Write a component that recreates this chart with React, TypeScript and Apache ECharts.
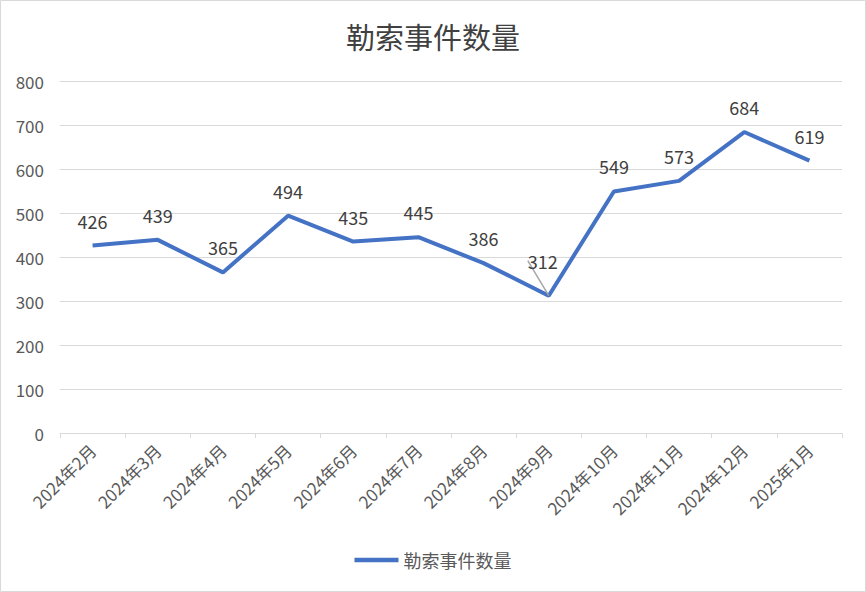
import React, { useEffect, useRef } from "react";
import * as echarts from "echarts";

const categories = [
  "2024年2月", "2024年3月", "2024年4月", "2024年5月", "2024年6月", "2024年7月",
  "2024年8月", "2024年9月", "2024年10月", "2024年11月", "2024年12月", "2025年1月",
];
const values = [426, 439, 365, 494, 435, 445, 386, 312, 549, 573, 684, 619];
const seriesName = "勒索事件数量";
const titleText = "勒索事件数量";
const leaderIndex = 7;

export default function App() {
  const ref = useRef<HTMLDivElement>(null);
  useEffect(() => {
    if (!ref.current) return;
    const chart = echarts.init(ref.current, undefined, { renderer: "svg" });
    const font = "'Noto Sans CJK SC', sans-serif";
    chart.setOption({
      animation: false,
      backgroundColor: "#ffffff",
      title: {
        text: titleText,
        left: "center",
        top: 16,
        textStyle: { fontSize: 29, fontWeight: "normal", color: "#404040", fontFamily: "'Noto Sans CJK SC', serif" },
      },
      graphic: [
        {
          type: "rect",
          shape: { x: 0.5, y: 0.5, width: 865, height: 591 },
          style: { fill: "none", stroke: "#d9d9d9", lineWidth: 1 },
          silent: true,
        },
      ],
      legend: {
        bottom: 18,
        left: "center",
        data: [seriesName],
        icon: "path://M0,0 L40,0 L40,4 L0,4 Z",
        itemWidth: 44,
        itemHeight: 5,
        itemGap: 4,
        textStyle: { fontSize: 18, color: "#595959", fontFamily: font },
      },
      grid: { left: 60, right: 24, top: 81, bottom: 159, containLabel: false },
      xAxis: {
        type: "category",
        data: categories,
        boundaryGap: true,
        axisLine: { lineStyle: { color: "#d9d9d9", width: 1 } },
        axisTick: { show: true, length: 5, lineStyle: { color: "#d9d9d9" } },
        axisLabel: { rotate: 45, fontSize: 17, color: "#595959", fontFamily: font, margin: 14, interval: 0 },
      },
      yAxis: {
        type: "value",
        min: 0,
        max: 800,
        interval: 100,
        axisLine: { show: false },
        axisTick: { show: false },
        splitLine: { lineStyle: { color: "#d9d9d9", width: 1 } },
        axisLabel: { fontSize: 17, color: "#595959", fontFamily: font, margin: 16 },
      },
      series: [
        {
          name: seriesName,
          type: "line",
          data: values.map((v, i) =>
            i === leaderIndex ? { value: v, labelLine: { show: true } } : { value: v, labelLine: { show: false } }
          ),
          showSymbol: true,
          symbol: "circle",
          symbolSize: 0,
          lineStyle: { color: "#4472c4", width: 4 },
          itemStyle: { color: "#4472c4" },
          label: { show: true, position: "top", distance: 16, fontSize: 18, color: "#404040", fontFamily: font },
          labelLayout: (p: any) => (p.dataIndex === leaderIndex ? { dx: -6, dy: -10 } : {}),
          labelLine: { show: false, lineStyle: { color: "#a6a6a6", width: 1.5 } },
        },
      ],
    });
    return () => chart.dispose();
  }, []);
  return <div ref={ref} style={{ position: "fixed", left: 0, top: 0, width: 866, height: 592 }} />;
}
